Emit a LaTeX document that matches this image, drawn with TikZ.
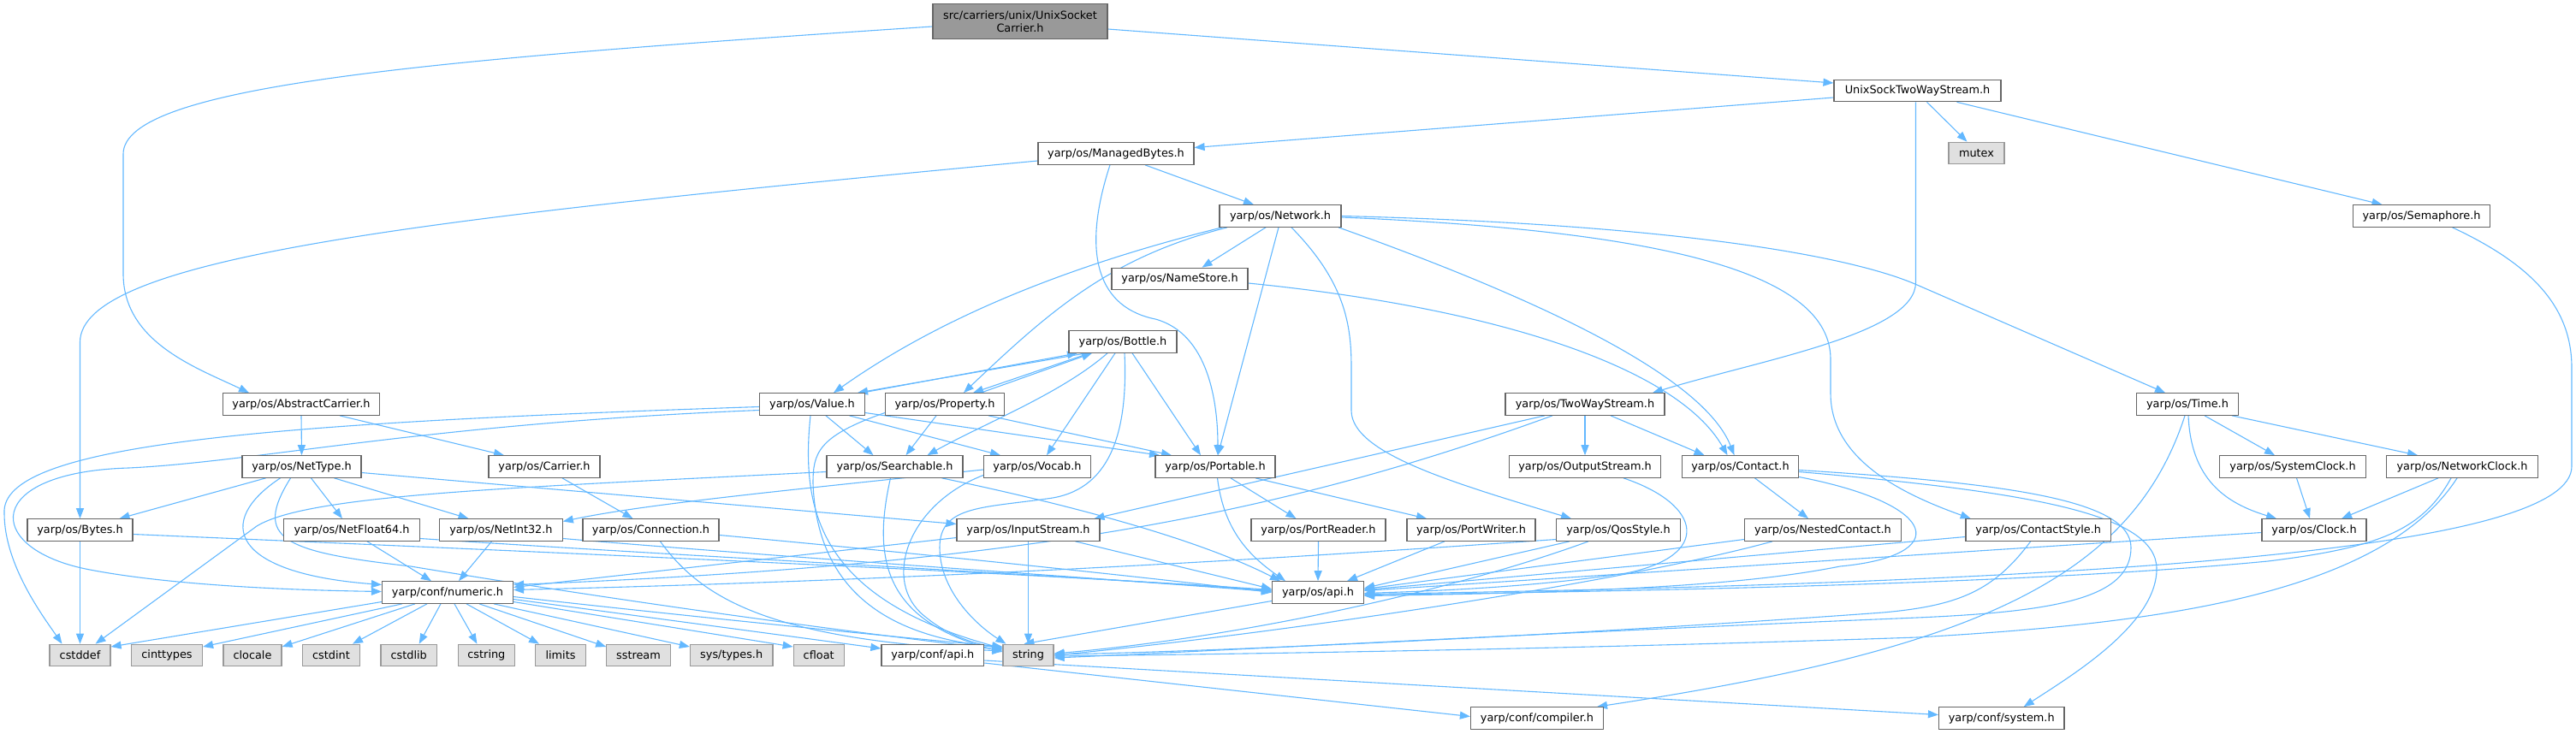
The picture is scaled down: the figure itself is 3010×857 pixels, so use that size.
\documentclass[tikz,border=0pt]{standalone}
\usepackage{fontspec}
\setmainfont{DejaVu Sans}
\usetikzlibrary{arrows.meta,backgrounds}
\definecolor{edgec}{HTML}{63B8FF}
\definecolor{bord}{HTML}{666666}
\definecolor{extb}{HTML}{999999}
\definecolor{extf}{HTML}{E0E0E0}
\definecolor{rootf}{HTML}{999999}
\newcommand\dxfont{\fontsize{12.85pt}{14.7pt}\selectfont}
\tikzset{
  box/.style={draw=bord, fill=white, line width=1.2pt, minimum height=25.5pt, inner sep=0pt, font=\dxfont, text=black},
  extn/.style={box, draw=extb, fill=extf},
  rootn/.style={box, fill=rootf, minimum height=40.3pt, align=center},
  ed/.style={draw=edgec, line width=1.1pt, -{Triangle[length=12pt,width=9pt]}},
}
\begin{document}
\begin{tikzpicture}[x=1pt,y=-1pt]
\useasboundingbox (0,0) rectangle (3010,857);
% nodes
\node[rootn, minimum width=204pt] (root) at (1192,25) {src/carriers/unix/UnixSocket\\Carrier.h};
\node[box, minimum width=195pt] (usk) at (2240.5,106) {UnixSockTwoWayStream.h};
\node[box, minimum width=182pt] (mb) at (1304,179.5) {yarp/os/ManagedBytes.h};
\node[extn, minimum width=65pt] (mutex) at (2309.5,179) {mutex};
\node[box, minimum width=142pt] (net) at (1496,252.5) {yarp/os/Network.h};
\node[box, minimum width=160pt] (sem) at (2829.5,252.5) {yarp/os/Semaphore.h};
\node[box, minimum width=159pt] (ns) at (1378.5,326) {yarp/os/NameStore.h};
\node[box, minimum width=126pt] (bot) at (1312,399.5) {yarp/os/Bottle.h};
\node[box, minimum width=183pt] (ac) at (352,472.5) {yarp/os/AbstractCarrier.h};
\node[box, minimum width=123pt] (val) at (949,472.5) {yarp/os/Value.h};
\node[box, minimum width=139pt] (prop) at (1104,472.5) {yarp/os/Property.h};
\node[box, minimum width=186pt] (tws) at (1852,472.5) {yarp/os/TwoWayStream.h};
\node[box, minimum width=119pt] (time) at (2556,472.5) {yarp/os/Time.h};
\node[box, minimum width=139pt] (nt) at (352.5,545.5) {yarp/os/NetType.h};
\node[box, minimum width=130pt] (car) at (636,545.5) {yarp/os/Carrier.h};
\node[box, minimum width=159pt] (srch) at (1045.5,545.5) {yarp/os/Searchable.h};
\node[box, minimum width=125pt] (voc) at (1212,545.5) {yarp/os/Vocab.h};
\node[box, minimum width=140pt] (port) at (1420,545.5) {yarp/os/Portable.h};
\node[box, minimum width=177pt] (os) at (1852,545.5) {yarp/os/OutputStream.h};
\node[box, minimum width=136pt] (con) at (2033.5,545.5) {yarp/os/Contact.h};
\node[box, minimum width=171pt] (sc) at (2679,545.5) {yarp/os/SystemClock.h};
\node[box, minimum width=177pt] (nc) at (2877,545.5) {yarp/os/NetworkClock.h};
\node[box, minimum width=123pt] (by) at (93.5,619.5) {yarp/os/Bytes.h};
\node[box, minimum width=159pt] (nf) at (411,619.5) {yarp/os/NetFloat64.h};
\node[box, minimum width=143.5pt] (ni) at (585.5,619.5) {yarp/os/NetInt32.h};
\node[box, minimum width=159pt] (conn) at (760.5,619.5) {yarp/os/Connection.h};
\node[box, minimum width=167pt] (is) at (1201.5,619.5) {yarp/os/InputStream.h};
\node[box, minimum width=157pt] (pr) at (1540.5,619.5) {yarp/os/PortReader.h};
\node[box, minimum width=150pt] (pw) at (1719,619.5) {yarp/os/PortWriter.h};
\node[box, minimum width=144.5pt] (qs) at (1891,619.5) {yarp/os/QosStyle.h};
\node[box, minimum width=183pt] (nest) at (2130,619.5) {yarp/os/NestedContact.h};
\node[box, minimum width=169.4pt] (cs) at (2381.7,619.5) {yarp/os/ContactStyle.h};
\node[box, minimum width=122pt] (clk) at (2704,619.5) {yarp/os/Clock.h};
\node[box, minimum width=153pt] (num) at (523,692.5) {yarp/conf/numeric.h};
\node[box, minimum width=107pt] (api) at (1540,692.5) {yarp/os/api.h};
\node[extn, minimum width=71pt] (cstddef) at (93.5,766) {cstddef};
\node[extn, minimum width=83pt] (cinttypes) at (195,766) {cinttypes};
\node[extn, minimum width=68pt] (clocale) at (295,766) {clocale};
\node[extn, minimum width=67pt] (cstdint) at (387,766) {cstdint};
\node[extn, minimum width=65.4pt] (cstdlib) at (477.7,766) {cstdlib};
\node[extn, minimum width=66.5pt] (cstring) at (568.4,766) {cstring};
\node[extn, minimum width=59pt] (limits) at (655,766) {limits};
\node[extn, minimum width=74.4pt] (sstream) at (746,766) {sstream};
\node[extn, minimum width=96.5pt] (systypes) at (854.7,766) {sys/types.h};
\node[extn, minimum width=59pt] (cfloat) at (956.7,766) {cfloat};
\node[box, minimum width=119.7pt] (capi) at (1089.8,766) {yarp/conf/api.h};
\node[extn, minimum width=59pt] (string) at (1201.5,766) {string};
\node[box, minimum width=155pt] (comp) at (1796,839.5) {yarp/conf/compiler.h};
\node[box, minimum width=146.4pt] (sys) at (2338.7,839.5) {yarp/conf/system.h};
% edges
\begin{scope}[on background layer]
\draw[ed] ([yshift=-6pt]root.west) .. controls (500,70) and (144,100) .. (144,180) -- (144,320) .. controls (144,400) and (230,430) .. ([xshift=-61pt]ac.north);
\draw[ed] ([yshift=-9pt]root.east) -- ([yshift=9pt]usk.west);
\draw[ed] ([yshift=-8.5pt]mb.west) .. controls (500,255) and (93.5,300) .. (93.5,400) -- (by.north);
\draw[ed] ([yshift=-8pt]usk.west) -- ([yshift=7pt]mb.east);
\draw[ed] ([xshift=11pt]usk.south) -- ([xshift=-11pt]mutex.north);
\draw[ed] ([xshift=46pt]usk.south) -- ([xshift=-46pt]sem.north);
\draw[ed] ([xshift=-2pt]usk.south) -- (2238.5,330) .. controls (2238.5,390) and (2060,420) .. ([xshift=79pt]tws.north);
\draw[ed] ([xshift=34pt]mb.south) -- ([xshift=-31pt]net.north);
\draw[ed] ([xshift=-7pt]mb.south) .. controls (1262,300) and (1285,360) .. (1350,373) .. controls (1412,390) and (1423,470) .. ([xshift=3pt]port.north);
\draw[ed] ([xshift=-17pt]net.south) -- ([xshift=26pt]ns.north);
\draw[ed] ([xshift=-68pt]net.south) .. controls (1250,310) and (1100,370) .. ([xshift=25pt]val.north);
\draw[ed] ([xshift=-62pt]net.south) .. controls (1300,300) and (1230,360) .. ([xshift=22pt]prop.north);
\draw[ed] ([xshift=-2pt]net.south) -- ([xshift=3pt]port.north);
\draw[ed] ([xshift=68pt]net.south) .. controls (1800,350) and (1990,440) .. ([xshift=-7pt]con.north);
\draw[ed] ([yshift=-5pt]ns.east) .. controls (1750,360) and (1960,430) .. ([xshift=-15pt]con.north);
\draw[ed] ([xshift=13pt]net.south) .. controls (1572,330) and (1579,380) .. (1579,430) -- (1579,480) .. controls (1579,530) and (1700,565) .. ([xshift=-55pt]qs.north);
\draw[ed] ([yshift=-1.5pt]net.east) .. controls (1950,270) and (2139,320) .. (2139,420) -- (2139,460) .. controls (2139,540) and (2230,580) .. ([xshift=-79pt]cs.north);
\draw[ed] (net.east) .. controls (1950,262) and (2160,298) .. (2240,333) -- ([xshift=-26pt]time.north);
\draw[ed] ([xshift=36pt]sem.south) .. controls (2960,310) and (3005,360) .. (3005,430) -- (3005,545) .. controls (3005,640) and (2500,680) .. ([yshift=-2pt]api.east);
\draw[ed] ([xshift=-47pt]tws.south) -- ([xshift=77pt]is.north);
\draw[ed] ([xshift=-38pt]tws.south) .. controls (1500,600) and (1200,660) .. ([yshift=9pt]num.east);
\draw[ed] (tws.south) -- (os.north);
\draw[ed] ([xshift=30pt]tws.south) -- ([xshift=-42pt]con.north);
\draw[ed] (ac.south) -- (nt.north);
\draw[ed] ([xshift=45pt]ac.south) -- ([xshift=-47pt]car.north);
\draw[ed] ([xshift=21pt]car.south) -- ([xshift=-21pt]conn.north);
\draw[ed] ([xshift=-42pt]nt.south) -- ([xshift=46pt]by.north);
\draw[ed] ([xshift=11pt]nt.south) -- ([xshift=-11pt]nf.north);
\draw[ed] ([xshift=38pt]nt.south) -- ([xshift=-38pt]ni.north);
\draw[ed] ([xshift=-25pt]nt.south) .. controls (250,610) and (270,670) .. ([yshift=9pt]num.west);
\draw[ed] ([xshift=-13pt]nt.south) .. controls (295,630) and (330,645) .. (480,662) .. controls (800,715) and (1050,745) .. ([yshift=6pt]string.west);
\draw[ed] ([yshift=-7pt]nt.east) -- ([yshift=7pt]is.west);
\draw[ed] (by.south) -- (cstddef.north);
\draw[ed] ([yshift=-5pt]by.east) .. controls (700,648) and (1200,670) .. ([yshift=3pt]api.west);
\draw[ed] ([xshift=18pt]nf.south) -- ([xshift=-19pt]num.north);
\draw[ed] ([yshift=-10pt]nf.east) .. controls (800,650) and (1200,670) .. ([yshift=2pt]api.west);
\draw[ed] ([xshift=-11pt]ni.south) -- ([xshift=13pt]num.north);
\draw[ed] ([yshift=-10pt]ni.east) .. controls (900,650) and (1200,670) .. ([yshift=1pt]api.west);
\draw[ed] ([yshift=-6pt]conn.east) .. controls (1000,640) and (1300,670) .. (api.west);
\draw[ed] ([xshift=11pt]conn.south) .. controls (820,700) and (900,748) .. ([yshift=5pt]string.west);
\draw[ed] ([yshift=-6pt]srch.west) .. controls (600,570) and (360,578) .. (300,615) -- ([xshift=18pt]cstddef.north);
\draw[ed] ([xshift=-5pt]srch.south) .. controls (1020,650) and (1030,725) .. ([yshift=4pt]string.west);
\draw[ed] ([xshift=55pt]srch.south) .. controls (1250,590) and (1400,630) .. ([xshift=-44pt]api.north);
\draw[ed] ([xshift=16pt]val.south) -- ([xshift=-25pt]srch.north);
\draw[ed] ([xshift=43.5pt]val.south) -- ([xshift=-43pt]voc.north);
\draw[ed] ([yshift=-10pt]val.east) -- ([xshift=-65pt]port.north);
\draw[ed] ([xshift=-2pt]val.south) .. controls (935,600) and (960,700) .. ([yshift=8pt]string.west);
\draw[ed] ([yshift=-3pt]val.west) .. controls (300,495) and (0,520) .. (5,600) .. controls (5,660) and (50,720) .. ([xshift=-21pt]cstddef.north);
\draw[ed] ([yshift=-7pt]val.west) .. controls (500,495) and (300,540) .. (150,547) .. controls (-20,552) and (-20,640) .. (100,665) .. controls (200,685) and (350,690) .. ([yshift=1pt]num.west);
\draw[ed] ([xshift=-10pt]prop.south) -- ([xshift=13pt]srch.north);
\draw[ed] ([xshift=51pt]prop.south) -- ([xshift=-51pt]port.north);
\draw[ed] ([yshift=-10pt]prop.west) .. controls (955,510) and (950,530) .. (950,565) .. controls (955,700) and (1050,745) .. ([yshift=9pt]string.west);
\draw[ed] ([xshift=42pt]prop.north) -- ([xshift=-36pt]bot.south);
\draw[ed] ([xshift=-39pt]bot.south) -- ([xshift=33pt]prop.north);
\draw[ed] ([xshift=58pt]val.north) -- ([xshift=-53pt]bot.south);
\draw[ed] ([xshift=-43pt]bot.south) -- ([xshift=53pt]val.north);
\draw[ed] ([xshift=-18pt]bot.south) .. controls (1240,460) and (1150,495) .. ([xshift=38pt]srch.north);
\draw[ed] ([xshift=-9pt]bot.south) -- ([xshift=11pt]voc.north);
\draw[ed] ([xshift=11pt]bot.south) -- ([xshift=-17pt]port.north);
\draw[ed] ([xshift=2pt]bot.south) .. controls (1318,500) and (1300,570) .. (1230,582) .. controls (1150,594) and (1098,590) .. (1098,640) .. controls (1098,690) and (1140,730) .. ([xshift=-26pt]string.north);
\draw[ed] ([yshift=-3.5pt]voc.west) .. controls (900,575) and (750,590) .. ([yshift=10pt]ni.east);
\draw[ed] ([yshift=-10pt]voc.west) .. controls (1060,590) and (1030,680) .. (1080,720) .. controls (1110,745) and (1140,752) .. ([yshift=7pt]string.west);
\draw[ed] ([xshift=2.5pt]port.south) .. controls (1430,620) and (1460,650) .. ([xshift=-38pt]api.north);
\draw[ed] ([xshift=18pt]port.south) -- ([xshift=-26pt]pr.north);
\draw[ed] ([xshift=47pt]port.south) -- ([xshift=-52pt]pw.north);
\draw[ed] ([yshift=-9pt]is.west) -- ([yshift=6pt]num.east);
\draw[ed] (is.south) -- (string.north);
\draw[ed] ([xshift=55pt]is.south) -- ([yshift=4pt]api.west);
\draw[ed] (pr.south) -- (api.north);
\draw[ed] ([xshift=-31pt]pw.south) -- ([xshift=34pt]api.north);
\draw[ed] ([xshift=-57pt]qs.south) -- ([yshift=5pt]api.east);
\draw[ed] ([yshift=-11pt]qs.west) .. controls (1400,660) and (1000,680) .. ([yshift=3pt]num.east);
\draw[ed] ([xshift=-35pt]qs.south) .. controls (1700,690) and (1450,745) .. ([yshift=2pt]string.east);
\draw[ed] ([xshift=45pt]os.south) .. controls (1990,590) and (2000,650) .. (1900,670) .. controls (1800,685) and (1700,690) .. ([yshift=-1pt]api.east);
\draw[ed] ([xshift=17pt]con.south) -- ([xshift=-17pt]nest.north);
\draw[ed] ([yshift=-12pt]con.east) .. controls (2270,590) and (2280,650) .. (2150,662) .. controls (2050,682) and (1900,692) .. ([yshift=-4pt]api.east);
\draw[ed] ([yshift=-4pt]con.east) .. controls (2350,565) and (2490,585) .. (2490,640) .. controls (2490,700) and (2400,715) .. (2240,722) .. controls (1800,740) and (1400,762) .. ([yshift=-3pt]string.east);
\draw[ed] ([yshift=-6pt]con.east) .. controls (2370,575) and (2520,600) .. (2520,665) .. controls (2520,730) and (2420,790) .. ([xshift=26pt]sys.north);
\draw[ed] ([xshift=-3pt]time.south) .. controls (2490,680) and (2300,760) .. ([xshift=70pt]comp.north);
\draw[ed] ([xshift=1pt]time.south) .. controls (2560,560) and (2600,588) .. ([xshift=-44pt]clk.north);
\draw[ed] ([xshift=20pt]time.south) -- ([xshift=-21pt]sc.north);
\draw[ed] ([xshift=52pt]time.south) -- ([xshift=-52pt]nc.north);
\draw[ed] ([xshift=-28pt]nc.south) -- ([xshift=32pt]clk.north);
\draw[ed] ([xshift=-13pt]nc.south) .. controls (2830,620) and (2780,640) .. (2650,656) .. controls (2400,680) and (2000,690) .. ([yshift=-3pt]api.east);
\draw[ed] ([xshift=-6pt]nc.south) .. controls (2780,700) and (2500,730) .. (2240,745) .. controls (1800,760) and (1400,765) .. ([yshift=-1pt]string.east);
\draw[ed] ([xshift=4.5pt]sc.south) -- ([xshift=-5pt]clk.north);
\draw[ed] ([yshift=-3pt]clk.west) -- ([yshift=2pt]api.east);
\draw[ed] ([yshift=-8pt]cs.west) -- ([yshift=3pt]api.east);
\draw[ed] ([xshift=-9pt]cs.south) .. controls (2330,690) and (2290,708) .. (2200,716) .. controls (1800,745) and (1400,762) .. ([yshift=1pt]string.east);
\draw[ed] ([yshift=-11pt]nest.west) -- ([yshift=4pt]api.east);
\draw[ed] ([xshift=-59pt]nest.south) .. controls (1900,680) and (1500,740) .. (string.east);
\draw[ed] ([yshift=-11pt]num.west) -- ([yshift=10pt]cstddef.east);
\draw[ed] ([xshift=-53pt]num.south) -- ([yshift=10pt]cinttypes.east);
\draw[ed] ([xshift=-38pt]num.south) -- ([yshift=10pt]clocale.east);
\draw[ed] ([xshift=-24pt]num.south) -- ([xshift=25pt]cstdint.north);
\draw[ed] ([xshift=-8pt]num.south) -- ([xshift=12pt]cstdlib.north);
\draw[ed] ([xshift=8pt]num.south) -- ([xshift=-11pt]cstring.north);
\draw[ed] ([xshift=22pt]num.south) -- ([xshift=-25pt]limits.north);
\draw[ed] ([xshift=37pt]num.south) -- ([yshift=10pt]sstream.west);
\draw[ed] ([xshift=54pt]num.south) -- ([yshift=10pt]systypes.west);
\draw[ed] ([yshift=-11pt]num.east) -- ([yshift=10pt]cfloat.west);
\draw[ed] ([yshift=-8pt]num.east) -- ([yshift=8pt]capi.west);
\draw[ed] ([yshift=-5pt]num.east) .. controls (800,720) and (1050,745) .. ([yshift=10pt]string.west);
\draw[ed] ([yshift=-9pt]capi.east) -- ([yshift=2pt]comp.west);
\draw[ed] ([yshift=-6pt]capi.east) -- ([yshift=4pt]sys.west);
\draw[ed] ([yshift=-10pt]api.west) -- ([xshift=-5pt]string.north);
\end{scope}
\end{tikzpicture}
\end{document}
